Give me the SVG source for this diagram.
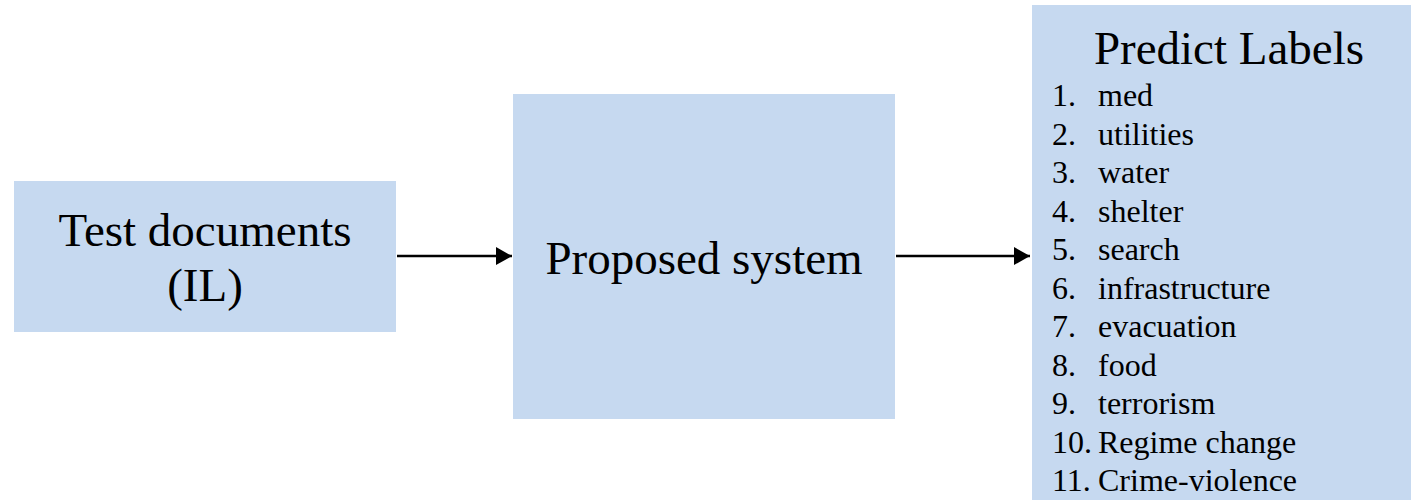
<svg xmlns="http://www.w3.org/2000/svg" width="1412" height="502" viewBox="0 0 1412 502">
<style>
.box{fill:#C6D9F0;}
.t{font-family:"Liberation Serif","Times New Roman",serif;fill:#000;}
.big{font-size:47px;}
.li{font-size:32px;}
.conn{stroke:#000;stroke-width:2.5;fill:none;}
</style>
<defs>
<marker id="ah" markerUnits="userSpaceOnUse" markerWidth="16" markerHeight="18" refX="16" refY="9" orient="auto">
<path d="M0,0 L16,9 L0,18 Z" fill="#000"/>
</marker>
</defs>
<rect width="1412" height="502" fill="#fff"/>
<g id="test-documents">
<rect class="box" x="14" y="181" width="382" height="151"/>
<text class="t big" x="205" y="246" text-anchor="middle">Test documents</text>
<text class="t big" x="205" y="301" text-anchor="middle">(IL)</text>
</g>
<g id="proposed-system">
<rect class="box" x="513" y="94" width="382" height="325"/>
<text class="t big" x="704" y="274" text-anchor="middle">Proposed system</text>
</g>
<g id="predict-labels">
<rect class="box" x="1032" y="5" width="379" height="495"/>
<text class="t big" x="1229" y="64" text-anchor="middle">Predict Labels</text>
<g class="t li">
<text x="1052" y="106">1.</text><text x="1098" y="106">med</text>
<text x="1052" y="144.5">2.</text><text x="1098" y="144.5">utilities</text>
<text x="1052" y="183">3.</text><text x="1098" y="183">water</text>
<text x="1052" y="221.5">4.</text><text x="1098" y="221.5">shelter</text>
<text x="1052" y="260">5.</text><text x="1098" y="260">search</text>
<text x="1052" y="298.5">6.</text><text x="1098" y="298.5">infrastructure</text>
<text x="1052" y="337">7.</text><text x="1098" y="337">evacuation</text>
<text x="1052" y="375.5">8.</text><text x="1098" y="375.5">food</text>
<text x="1052" y="414">9.</text><text x="1098" y="414">terrorism</text>
<text x="1052" y="452.5">10.</text><text x="1098" y="452.5">Regime change</text>
<text x="1052" y="491">11.</text><text x="1098" y="491">Crime-violence</text>
</g>
</g>
<g id="connectors">
<line class="conn" x1="397" y1="256" x2="512" y2="256" marker-end="url(#ah)"/>
<line class="conn" x1="896" y1="256" x2="1030" y2="256" marker-end="url(#ah)"/>
</g>
</svg>
